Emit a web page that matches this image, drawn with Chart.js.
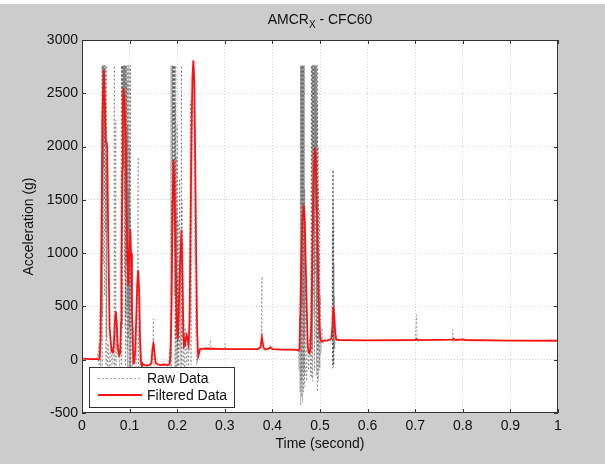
<!DOCTYPE html>
<html>
<head>
<meta charset="utf-8">
<script src="https://cdn.jsdelivr.net/npm/chart.js@4/dist/chart.umd.min.js"></script>
<style>
  html, body { margin: 0; padding: 0; background: #cccccc; }
  #wrap { position: relative; width: 605px; height: 464px; }
</style>
</head>
<body>
<div id="wrap"><canvas id="c" width="605" height="464"></canvas></div>
<script>
// ---- data: [time (s), acceleration (g)] ----
const rawData = [
  [0,5],[0.004,12],[0.008,8],[0.012,10],[0.016,4],[0.02,8],[0.024,2],[0.028,5],[0.031,0],
  [0.033,60],[0.034,-20],[0.035,150],[0.036,-60],[0.037,80],[0.038,480],[0.039,-80],[0.040,120],[0.041,300],
  // block 1
  [0.042,2760],[0.0425,-100],[0.043,2760],[0.0435,400],[0.044,2760],[0.0445,900],[0.045,2760],[0.0455,1800],
  [0.046,2760],[0.0465,1500],[0.047,2760],[0.0475,600],[0.048,2760],[0.0485,2000],[0.049,2760],[0.0495,1200],
  [0.050,2400],[0.0505,-150],[0.051,2760],[0.0515,200],[0.052,1900],[0.053,-200],[0.055,150],[0.057,-150],
  [0.059,80],[0.061,-100],[0.063,120],[0.065,-50],[0.067,100],[0.068,2760],[0.0685,-150],[0.070,200],
  [0.071,2250],[0.0715,-100],[0.073,300],[0.075,50],[0.077,150],[0.079,-80],[0.081,100],
  // block 2
  [0.083,2760],[0.0835,-150],[0.084,2760],[0.0845,300],[0.085,2760],[0.0855,1200],[0.086,2760],[0.0865,2000],
  [0.087,2760],[0.0875,2300],[0.088,2760],[0.0885,1500],[0.089,2760],[0.0895,800],[0.090,2760],[0.0905,300],
  [0.091,2760],[0.0915,-100],[0.092,2760],[0.0925,400],[0.093,2760],[0.0935,900],[0.094,2600],[0.0945,100],
  [0.095,2760],[0.0955,-200],[0.096,2200],[0.0965,500],[0.097,2760],[0.0975,200],[0.098,1600],[0.0985,-150],
  [0.099,2760],[0.0995,300],[0.100,2000],[0.1005,-200],[0.101,1400],[0.1015,-100],[0.102,2760],[0.1025,-150],
  [0.104,600],[0.106,-250],[0.108,300],[0.110,-150],[0.112,100],[0.114,-200],[0.116,400],[0.118,1900],
  [0.1185,-200],[0.120,300],[0.122,-100],[0.124,50],[0.126,-150],[0.128,-30],[0.132,-60],[0.136,-40],
  [0.140,-50],[0.144,-70],[0.148,-20],[0.150,380],[0.1505,-60],[0.153,-40],[0.158,-50],[0.163,-40],
  [0.168,-60],[0.173,-40],[0.178,-50],[0.182,-30],[0.184,100],[0.185,-150],
  // block 3
  [0.187,2760],[0.1875,-200],[0.188,1500],[0.1885,300],[0.189,2760],[0.1895,800],[0.190,2760],[0.1905,1800],
  [0.191,2760],[0.1915,1200],[0.192,2760],[0.1925,2200],[0.193,2760],[0.1935,1500],[0.194,2760],[0.1945,600],
  [0.195,2760],[0.1955,-100],[0.196,2400],[0.1965,200],[0.197,2760],[0.1975,-200],[0.198,1900],[0.1985,300],
  [0.199,1400],[0.1995,-150],[0.200,2200],[0.2005,100],[0.201,800],[0.2015,-250],[0.202,1300],[0.2025,200],
  [0.203,600],[0.2035,-100],[0.205,1700],[0.2055,100],[0.207,900],[0.2075,-200],[0.209,2760],[0.2095,-150],
  [0.210,1500],[0.2105,200],[0.212,1100],[0.2125,-100],[0.214,400],[0.216,-150],[0.218,300],[0.220,-50],
  [0.222,200],[0.224,-100],[0.226,800],[0.228,2430],[0.229,-50],[0.231,1600],[0.233,2600],[0.235,2200],
  [0.237,900],[0.239,200],[0.241,-50],[0.244,50],[0.246,100],[0.250,110],[0.255,95],[0.260,105],
  [0.265,100],[0.270,190],[0.2705,90],[0.275,100],[0.280,105],[0.290,95],[0.300,100],[0.301,150],
  [0.302,95],[0.320,100],[0.340,98],[0.360,100],[0.376,100],[0.378,780],[0.3785,90],[0.385,100],
  [0.396,140],[0.397,95],[0.420,98],[0.440,95],[0.452,90],[0.455,80],
  // block 4
  [0.456,-100],[0.457,400],[0.458,-300],[0.459,2760],[0.4595,-430],[0.460,2760],[0.4605,-200],[0.461,2760],
  [0.4615,-350],[0.462,2760],[0.4625,500],[0.463,2760],[0.4635,-400],[0.464,2760],[0.4645,-100],[0.465,2760],
  [0.4655,-300],[0.466,2760],[0.4665,200],[0.467,2760],[0.4675,-250],[0.468,1600],[0.4685,-150],[0.470,700],
  [0.472,-200],[0.474,300],[0.476,-100],[0.478,200],[0.480,-150],
  // block 5
  [0.482,2760],[0.4825,-170],[0.483,2760],[0.4835,100],[0.484,2760],[0.4845,-200],[0.485,2760],[0.4855,600],
  [0.486,2760],[0.4865,1200],[0.487,2760],[0.4875,400],[0.488,2760],[0.4885,-100],[0.489,2760],[0.4895,800],
  [0.490,2760],[0.4905,1400],[0.491,2760],[0.4915,200],[0.492,2760],[0.4925,-150],[0.493,2760],[0.4935,500],
  [0.494,2400],[0.4945,-300],[0.495,2760],[0.4955,100],[0.496,2000],[0.4965,-200],[0.497,1600],[0.4975,200],
  [0.498,1000],[0.4985,-100],[0.499,1400],[0.4995,-72],[0.501,600],[0.502,50],[0.504,300],[0.506,150],
  [0.510,200],[0.515,170],[0.520,190],[0.525,150],
  [0.526,1200],[0.5263,-80],[0.5267,1780],[0.527,-60],[0.5273,1500],[0.5277,-40],[0.528,1780],[0.5283,-70],
  [0.5287,1300],[0.529,-50],[0.5293,900],[0.5297,100],[0.530,600],[0.531,100],[0.533,300],[0.536,180],
  [0.540,190],[0.560,182],[0.600,185],[0.650,180],[0.700,185],[0.703,420],[0.7035,170],[0.710,185],
  [0.750,183],[0.778,190],[0.779,280],[0.7795,170],[0.790,185],[0.850,182],[0.900,180],[0.950,181],[1.000,180]
];

const filteredData = [
  [0,10],[0.010,8],[0.020,6],[0.030,5],[0.035,3],[0.037,10],[0.039,200],[0.041,1200],[0.043,2300],
  [0.046,2720],[0.048,2400],[0.050,2050],[0.052,2040],[0.053,2000],[0.055,1200],[0.058,300],[0.062,80],
  [0.065,70],[0.067,150],[0.069,350],[0.071,455],[0.073,350],[0.075,120],[0.078,40],[0.080,60],
  [0.082,350],[0.083,900],[0.085,1800],[0.086,2400],[0.087,2550],[0.089,2450],[0.092,2000],[0.094,1300],
  [0.097,700],[0.099,950],[0.1015,1225],[0.103,1000],[0.105,450],[0.108,-30],[0.110,-20],[0.112,100],
  [0.114,400],[0.116,700],[0.118,840],[0.120,650],[0.122,200],[0.124,-20],[0.126,-55],[0.130,-45],
  [0.135,-55],[0.140,-50],[0.144,-45],[0.146,-20],[0.148,100],[0.150,150],[0.151,130],[0.153,30],
  [0.155,-30],[0.160,-45],[0.165,-50],[0.172,-45],[0.180,-50],[0.184,-40],[0.186,50],[0.188,500],
  [0.190,1300],[0.192,1876],[0.194,1700],[0.196,1100],[0.198,600],[0.200,250],[0.201,190],[0.203,400],
  [0.206,900],[0.209,1220],[0.211,800],[0.213,250],[0.214,120],[0.216,130],[0.218,200],[0.220,230],
  [0.222,180],[0.224,140],[0.226,350],[0.228,1200],[0.230,2100],[0.232,2650],[0.234,2810],[0.236,2600],
  [0.238,1800],[0.240,900],[0.242,250],[0.244,30],[0.246,60],[0.248,100],[0.260,105],[0.300,100],
  [0.340,100],[0.370,100],[0.375,120],[0.378,210],[0.381,120],[0.385,95],[0.390,100],[0.396,115],
  [0.400,100],[0.420,95],[0.440,95],[0.452,92],[0.455,85],[0.457,100],[0.459,500],[0.461,1000],
  [0.463,1300],[0.466,1450],[0.468,1300],[0.470,900],[0.472,500],[0.474,150],[0.476,70],[0.478,60],
  [0.480,100],[0.482,400],[0.484,1000],[0.486,1600],[0.489,1990],[0.491,1900],[0.493,1500],[0.495,1000],
  [0.497,600],[0.499,300],[0.501,190],[0.503,170],[0.506,178],[0.510,180],[0.515,182],[0.520,185],
  [0.524,200],[0.526,300],[0.528,497],[0.530,420],[0.532,250],[0.534,190],[0.540,185],[0.600,182],
  [0.700,185],[0.703,195],[0.706,183],[0.780,188],[0.781,195],[0.785,185],[0.800,190],[0.805,185],
  [0.900,180],[1.000,178]
];

const xTicks = [0, 0.1, 0.2, 0.3, 0.4, 0.5, 0.6, 0.7, 0.8, 0.9, 1];
const xTickLabels = ["0", "0.1", "0.2", "0.3", "0.4", "0.5", "0.6", "0.7", "0.8", "0.9", "1"];
const yTicks = [-500, 0, 500, 1000, 1500, 2000, 2500, 3000];
const yTickLabels = ["-500", "0", "500", "1000", "1500", "2000", "2500", "3000"];
const seriesNames = ["Raw Data", "Filtered Data"];

// ---- look ----
const FONT = "'Liberation Sans', Arial, Helvetica, sans-serif";
const RAW_COLOR = "rgba(70,70,70,0.45)";
const RED = "#ff1010";

const toXY = arr => arr.map(p => ({ x: p[0], y: p[1] }));

// plot frame, inward ticks, subscripted title and the in-axes legend (MATLAB style)
const matlabLook = {
  id: "matlabLook",
  beforeDraw(chart) {
    const { ctx, chartArea: a } = chart;
    ctx.save();
    ctx.fillStyle = "#ffffff";
    ctx.fillRect(0, 0, chart.width, 4);
    ctx.fillRect(a.left, a.top, a.right - a.left, a.bottom - a.top);
    ctx.restore();
  },
  afterDraw(chart) {
    const { ctx, chartArea: a, scales } = chart;
    ctx.save();
    // frame
    ctx.strokeStyle = "#333";
    ctx.lineWidth = 1;
    ctx.strokeRect(a.left + 0.5, a.top + 0.5, a.right - a.left - 1, a.bottom - a.top - 1);
    // inward ticks
    ctx.beginPath();
    xTicks.forEach(v => {
      const x = Math.round(scales.x.getPixelForValue(v)) + 0.5;
      ctx.moveTo(x, a.bottom); ctx.lineTo(x, a.bottom - 4);
      ctx.moveTo(x, a.top); ctx.lineTo(x, a.top + 4);
    });
    yTicks.forEach(v => {
      const y = Math.round(scales.y.getPixelForValue(v)) + 0.5;
      ctx.moveTo(a.left, y); ctx.lineTo(a.left + 4, y);
      ctx.moveTo(a.right, y); ctx.lineTo(a.right - 4, y);
    });
    ctx.stroke();

    // title: AMCR_X - CFC60
    ctx.fillStyle = "#111";
    ctx.textBaseline = "alphabetic";
    ctx.textAlign = "left";
    const big = "14px " + FONT, small = "10px " + FONT;
    ctx.font = big; const w1 = ctx.measureText("AMCR").width;
    ctx.font = small; const w2 = ctx.measureText("X").width;
    ctx.font = big; const w3 = ctx.measureText(" - CFC60").width;
    let tx = (a.left + a.right) / 2 - (w1 + w2 + w3) / 2;
    const ty = 24;
    ctx.font = big; ctx.fillText("AMCR", tx, ty); tx += w1;
    ctx.font = small; ctx.fillText("X", tx, ty + 4); tx += w2;
    ctx.font = big; ctx.fillText(" - CFC60", tx, ty);

    // legend box
    const lx = a.left + 7, ly = a.bottom - 46, lw = 146, lh = 41;
    ctx.fillStyle = "#fff";
    ctx.fillRect(lx, ly, lw, lh);
    ctx.strokeStyle = "#333";
    ctx.strokeRect(lx + 0.5, ly + 0.5, lw - 1, lh - 1);
    const rows = [ly + 11, ly + 28];
    // raw sample
    ctx.strokeStyle = RAW_COLOR; ctx.lineWidth = 1; ctx.setLineDash([2, 2]);
    ctx.beginPath(); ctx.moveTo(lx + 9, rows[0] + 0.5); ctx.lineTo(lx + 53, rows[0] + 0.5); ctx.stroke();
    ctx.setLineDash([]);
    ctx.strokeStyle = RED; ctx.lineWidth = 1.8;
    ctx.beginPath(); ctx.moveTo(lx + 9, rows[1]); ctx.lineTo(lx + 53, rows[1]); ctx.stroke();
    ctx.fillStyle = "#111"; ctx.font = big; ctx.textBaseline = "middle";
    ctx.fillText(seriesNames[0], lx + 58, rows[0] + 1);
    ctx.fillText(seriesNames[1], lx + 58, rows[1] + 1);
    ctx.restore();
  }
};

new Chart(document.getElementById("c"), {
  type: "line",
  data: {
    datasets: [
      {
        label: seriesNames[1],
        data: toXY(filteredData),
        borderColor: RED,
        borderWidth: 1.8,
        pointRadius: 0,
        tension: 0,
        order: 1
      },
      {
        label: seriesNames[0],
        data: toXY(rawData),
        borderColor: RAW_COLOR,
        borderWidth: 1,
        borderDash: [2, 2],
        pointRadius: 0,
        tension: 0,
        order: 2
      }
    ]
  },
  options: {
    responsive: false,
    animation: false,
    events: [],
    layout: { padding: { left: 0, right: 47, top: 40, bottom: 0 } },
    plugins: { legend: { display: false }, tooltip: { enabled: false }, title: { display: false } },
    scales: {
      x: {
        type: "linear",
        min: 0, max: 1,
        afterBuildTicks: s => { s.ticks = xTicks.map(v => ({ value: v })); },
        afterFit: s => { s.height = 51; },
        ticks: {
          callback: (v, i) => xTickLabels[i],
          color: "#111", font: { family: FONT, size: 14 }, padding: 5, maxRotation: 0
        },
        grid: { color: "#d0d0d0", drawTicks: false },
        border: { display: false, dash: [1, 2] },
        title: {
          display: true, text: "Time (second)", color: "#111",
          font: { family: FONT, size: 14 }, padding: { top: 0, bottom: 11 }
        }
      },
      y: {
        type: "linear",
        min: -500, max: 3000,
        afterBuildTicks: s => { s.ticks = yTicks.map(v => ({ value: v })); },
        afterFit: s => { s.width = 82; },
        ticks: {
          callback: (v, i) => yTickLabels[i],
          color: "#111", font: { family: FONT, size: 14 }, padding: 4
        },
        grid: { color: "#d0d0d0", drawTicks: false },
        border: { display: false, dash: [1, 2] },
        title: {
          display: true, text: "Acceleration (g)", color: "#111",
          font: { family: FONT, size: 14 }, padding: { top: 21, bottom: 0 }
        }
      }
    }
  },
  plugins: [matlabLook]
});
</script>
</body>
</html>
